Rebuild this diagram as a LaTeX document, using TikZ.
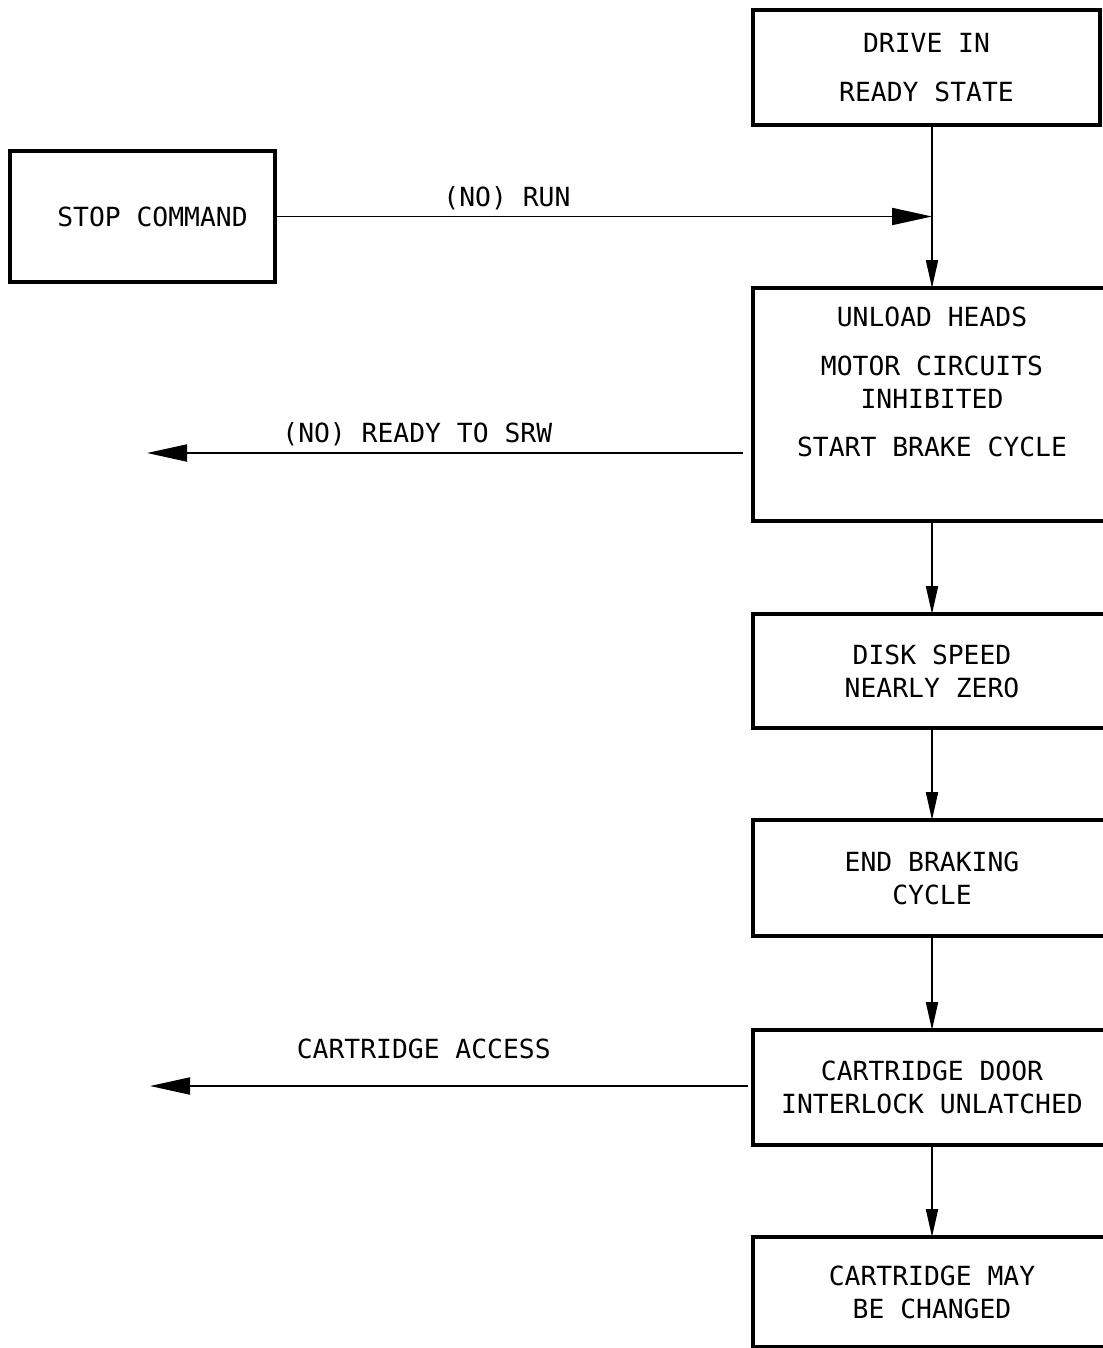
\documentclass[tikz,border=0pt]{standalone}
\usepackage{fontspec}
\usepackage{tikz}
\usetikzlibrary{arrows.meta}
\usetikzlibrary{positioning}
\newfontfamily\drivefont{DejaVu Sans Mono}
\tikzstyle{block} = [rectangle, draw, line width=2.2pt, outer sep=0pt, align=center,
    font=\drivefont\fontsize{15}{18.7}\selectfont, minimum width=7.16cm]
\tikzstyle{sig} = [font=\drivefont\fontsize{15}{18.7}\selectfont]
\tikzstyle{line} = [draw, -{Triangle[length=0.56cm,width=0.24cm]}, line width=1.1pt]
\tikzstyle{longline} = [draw, -{Triangle[length=0.8cm,width=0.34cm]}, line width=1.1pt]

\begin{document}
\begin{tikzpicture}
    \useasboundingbox (0,0) rectangle (22.04,-26.96);
    % Place nodes
    \node [block, minimum width=5.3cm, minimum height=2.62cm] (stop) at (2.85,-4.33) {\hspace*{0.4cm}STOP COMMAND};
    \node [block, anchor=north west, minimum width=6.94cm, minimum height=2.3cm] (ready) at (15.06,-0.2) {DRIVE IN\\[9pt] READY STATE};
    \node [block, below=3.26cm of ready.south west, anchor=north west, minimum height=4.66cm] (unload) {UNLOAD HEADS\\[9pt] MOTOR CIRCUITS\\ INHIBITED\\[9pt] START BRAKE CYCLE\\[0.25cm]\mbox{}};
    \node [block, below=1.86cm of unload.south west, anchor=north west, minimum height=2.28cm] (speed) {DISK SPEED\\ NEARLY ZERO};
    \node [block, below=1.84cm of speed.south west, anchor=north west, minimum height=2.32cm] (brake) {END BRAKING\\ CYCLE};
    \node [block, below=1.88cm of brake.south west, anchor=north west, minimum height=2.3cm] (door) {CARTRIDGE DOOR\\ INTERLOCK UNLATCHED};
    \node [block, below=1.84cm of door.south west, anchor=north west, minimum height=2.2cm] (change) {CARTRIDGE MAY\\ BE CHANGED};

    \coordinate (join) at (unload.north |- stop.east);
    \coordinate (srw) at (2.94,-9.06);
    \coordinate (access) at (3.0,-21.72);

    % Connectors
    \path [longline] (stop.east) -- node [sig, above, pos=0.353] {(NO) RUN} (join);
    \draw [line width=1.1pt] (ready.south -| unload.north) -- (join);
    \path [line] (join) -- (unload.north);
    \path [longline, shorten <=0.2cm] (unload.west |- srw) -- node [sig, above, pos=0.554] {(NO) READY TO SRW} (srw);
    \path [line] (unload) -- (speed);
    \path [line] (speed) -- (brake);
    \path [line] (brake) -- (door);
    \path [longline, shorten <=0.1cm] (door.west |- access) -- node [sig, above=0.41cm, pos=0.546] {CARTRIDGE ACCESS} (access);
    \path [line] (door) -- (change);
\end{tikzpicture}
\end{document}
